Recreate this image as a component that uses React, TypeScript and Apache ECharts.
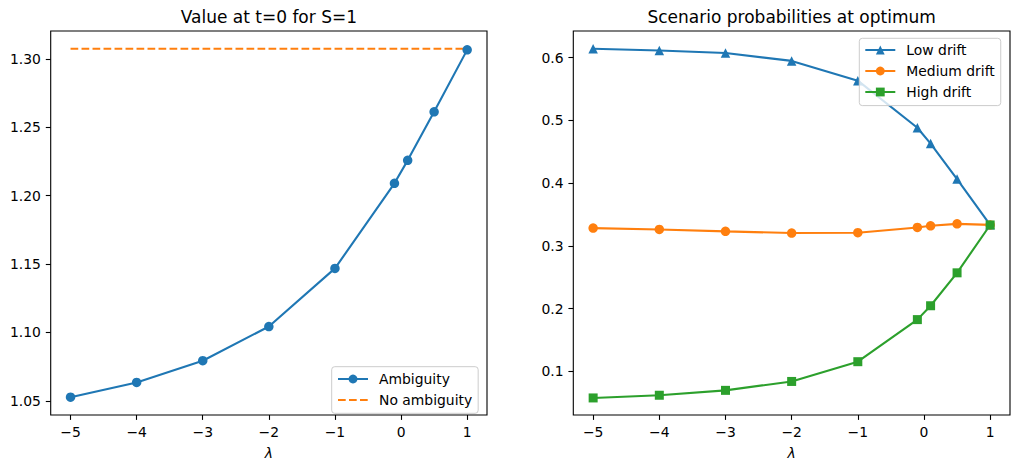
import React, { useEffect, useRef } from "react";
import * as echarts from "echarts";

const lambdas = [-5, -4, -3, -2, -1, -0.1, 0.1, 0.5, 1];
const ambiguity = [1.0526, 1.0634, 1.0793, 1.1043, 1.1468, 1.209, 1.2258, 1.2613, 1.3066];
const noAmbiguityX = [-5, 1];
const noAmbiguity = [1.3074, 1.3074];

const lowDrift = [0.6142, 0.6115, 0.6074, 0.5948, 0.5633, 0.4882, 0.463, 0.4064, 0.3335];
const mediumDrift = [0.3282, 0.3261, 0.323, 0.3203, 0.3209, 0.3293, 0.3319, 0.335, 0.3333];
const highDrift = [0.0574, 0.0617, 0.0695, 0.0837, 0.1152, 0.1823, 0.2044, 0.2569, 0.3332];

const xTicks = [-5, -4, -3, -2, -1, 0, 1];
const leftYTicks = [1.05, 1.1, 1.15, 1.2, 1.25, 1.3];
const rightYTicks = [0.1, 0.2, 0.3, 0.4, 0.5, 0.6];

const titles = ["Value at t=0 for S=1", "Scenario probabilities at optimum"];

const C0 = "#1f77b4";
const C1 = "#ff7f0e";
const C2 = "#2ca02c";
const FONT = "DejaVu Sans";
const FS = 13.9;

const pairs = (xs: number[], ys: number[]) => xs.map((x, i) => [x, ys[i]]);
const minusFmt = (v: number) => (v < 0 ? "\u2212" + Math.abs(v) : String(v));

export default function App() {
  const ref = useRef<HTMLDivElement>(null);
  useEffect(() => {
    if (!ref.current) return;
    const chart = echarts.init(ref.current, null, { renderer: "svg" });
    const grids = [
      { left: 50.7, top: 31, width: 436.3, height: 389.7 },
      { left: 573.3, top: 31, width: 436.7, height: 389.2 },
    ];
    const xAxisBase = (gi: number) => ({
      gridIndex: gi,
      type: "value",
      min: -5.3,
      max: 1.3,
      splitLine: { show: false },
      axisLine: { show: false, onZero: false },
      axisTick: {
        show: true,
        inside: false,
        length: 4.9,
        lineStyle: { color: "#000", width: 1.1 },
        customValues: xTicks,
      },
      axisLabel: {
        customValues: xTicks,
        formatter: minusFmt,
        color: "#000",
        fontSize: FS,
        fontFamily: FONT,
        margin: 9.8,
      },
      name: "λ",
      nameLocation: "middle",
      nameGap: 31,
      nameTextStyle: { fontStyle: "italic", fontFamily: FONT, fontSize: FS, color: "#000" },
    });
    const yAxisBase = (gi: number, min: number, max: number, ticks: number[], dec: number) => ({
      gridIndex: gi,
      type: "value",
      min,
      max,
      splitLine: { show: false },
      axisLine: { show: false, onZero: false },
      axisTick: {
        show: true,
        inside: false,
        length: 4.9,
        lineStyle: { color: "#000", width: 1.1 },
        customValues: ticks,
      },
      axisLabel: {
        customValues: ticks,
        formatter: (v: number) => v.toFixed(dec),
        color: "#000",
        fontSize: FS,
        fontFamily: FONT,
        margin: 9.8,
      },
    });
    const lineSeries = (name: string, gi: number, data: number[][], color: string, symbol: string) => ({
      name,
      type: "line",
      xAxisIndex: gi,
      yAxisIndex: gi,
      data,
      symbol,
      symbolSize: symbol === "rect" ? 9 : 9.5,
      showAllSymbol: true,
      lineStyle: { color, width: 2.1 },
      itemStyle: { color, borderWidth: 0 },
      emphasis: { disabled: true },
      clip: false,
    });
    const legendBase = {
      orient: "vertical",
      selectedMode: false,
      backgroundColor: "rgba(255,255,255,0.8)",
      borderColor: "#cccccc",
      borderWidth: 1,
      borderRadius: 3,
      itemWidth: 30,
      itemHeight: 11,
      itemGap: 7,
      textStyle: { fontSize: FS, fontFamily: FONT, color: "#000", padding: [0, 0, 0, 6] },
    };
    chart.setOption({
      animation: false,
      title: titles.map((t, i) => ({
        text: t,
        left: grids[i].left + grids[i].width / 2,
        top: 8,
        textAlign: "center",
        padding: 0,
        textStyle: { fontSize: 17, fontWeight: "normal", fontFamily: FONT, color: "#000" },
      })),
      grid: grids.map((g) => ({
        ...g,
        show: true,
        borderColor: "#000",
        borderWidth: 1.1,
        backgroundColor: "transparent",
        containLabel: false,
      })),
      xAxis: [xAxisBase(0), xAxisBase(1)],
      yAxis: [
        yAxisBase(0, 1.0396, 1.3204, leftYTicks, 2),
        yAxisBase(1, 0.0302, 0.6425, rightYTicks, 1),
      ],
      legend: [
        {
          ...legendBase,
          left: 331.7,
          top: 366.7,
          padding: [5.3, 6, 6.3, 5.3],
          data: ["Ambiguity", { name: "No ambiguity", itemStyle: { opacity: 0 } }],
        },
        {
          ...legendBase,
          left: 859.3,
          top: 38.3,
          padding: [4.7, 6, 6.6, 5],
          data: ["Low drift", "Medium drift", "High drift"],
        },
      ],
      series: [
        lineSeries("Ambiguity", 0, pairs(lambdas, ambiguity), C0, "circle"),
        {
          name: "No ambiguity",
          type: "line",
          xAxisIndex: 0,
          yAxisIndex: 0,
          data: pairs(noAmbiguityX, noAmbiguity),
          symbol: "none",
          lineStyle: { color: C1, width: 2.1, type: [7.7, 3.3] },
          itemStyle: { color: C1 },
          emphasis: { disabled: true },
        },
        lineSeries("Low drift", 1, pairs(lambdas, lowDrift), C0, "triangle"),
        lineSeries("Medium drift", 1, pairs(lambdas, mediumDrift), C1, "circle"),
        lineSeries("High drift", 1, pairs(lambdas, highDrift), C2, "rect"),
      ],
    });
    return () => chart.dispose();
  }, []);
  return (
    <div
      ref={ref}
      style={{ position: "absolute", left: 0, top: 0, width: 1014, height: 465, background: "#fff" }}
    />
  );
}
